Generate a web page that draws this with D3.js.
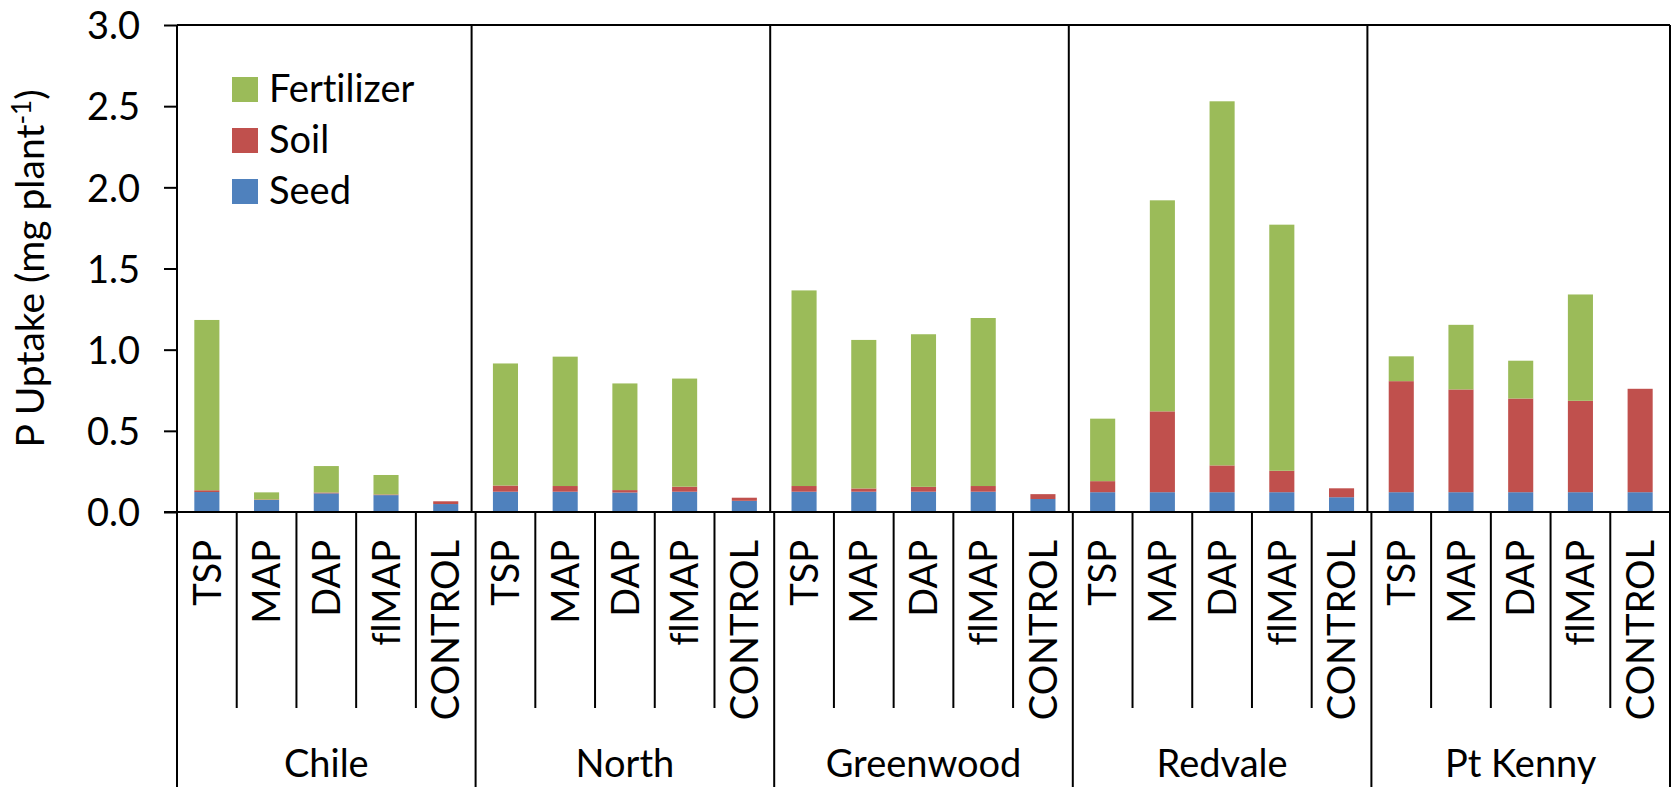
<!DOCTYPE html>
<html>
<head>
<meta charset="utf-8">
<script src="https://cdn.jsdelivr.net/npm/d3@7"></script>
<style>
  html, body { margin: 0; padding: 0; background: #fff; }
  svg { display: block; font-family: Lato, "Open Sans", sans-serif; font-variant-ligatures: none; }
</style>
</head>
<body>
<svg id="chart" width="1674" height="787"></svg>
<script>
// ---- data ----
const groups = ["Chile", "North", "Greenwood", "Redvale", "Pt Kenny"];
const treatments = ["TSP", "MAP", "DAP", "flMAP", "CONTROL"];
const seriesNames = ["Seed", "Soil", "Fertilizer"];
const seriesColors = ["#4F81BD", "#C0504D", "#9BBB59"];
const yTicks = [0, 0.5, 1.0, 1.5, 2.0, 2.5, 3.0];

// values per group, in treatment order
const seed = [
  0.123, 0.074, 0.115, 0.104, 0.049,
  0.125, 0.125, 0.120, 0.125, 0.069,
  0.125, 0.125, 0.125, 0.125, 0.080,
  0.122, 0.122, 0.122, 0.122, 0.091,
  0.122, 0.122, 0.122, 0.122, 0.122
];
const soil = [
  0.011, 0.003, 0.005, 0.004, 0.017,
  0.038, 0.035, 0.015, 0.031, 0.019,
  0.035, 0.020, 0.030, 0.035, 0.030,
  0.068, 0.498, 0.165, 0.132, 0.055,
  0.684, 0.633, 0.577, 0.563, 0.637
];
const fertilizer = [
  1.049, 0.044, 0.163, 0.120, 0.000,
  0.752, 0.797, 0.657, 0.666, 0.000,
  1.205, 0.915, 0.940, 1.035, 0.000,
  0.385, 1.300, 2.243, 1.516, 0.000,
  0.153, 0.398, 0.233, 0.655, 0.000
];

// ---- layout ----
const svg = d3.select("#chart");
const plot = { left: 177, right: 1670, top: 25, bottom: 512 };
const catLineBottom = 708;
const groupLineBottom = 787;
const fontSize = 38;

const rows = [];
groups.forEach((g, gi) => treatments.forEach((t, ti) => {
  const i = gi * treatments.length + ti;
  rows.push({ key: g + "|" + t, group: g, treatment: t, Seed: seed[i], Soil: soil[i], Fertilizer: fertilizer[i] });
}));

const x = d3.scaleBand().domain(rows.map(d => d.key))
  .range([plot.left, plot.right]).paddingInner(0.58).paddingOuter(0.29);
const xCat = d3.scaleBand().domain(rows.map(d => d.key)).range([plot.left, plot.right]);
const xGroup = d3.scaleBand().domain(groups).range([plot.left, plot.right]);
const y = d3.scaleLinear().domain([0, 3]).range([plot.bottom, plot.top]);

// ---- bars ----
const stack = d3.stack().keys(seriesNames)(rows);
svg.append("g").selectAll("g").data(stack).join("g")
  .attr("fill", (d, i) => seriesColors[i])
  .selectAll("rect").data(d => d).join("rect")
  .attr("x", d => x(d.data.key))
  .attr("width", x.bandwidth())
  .attr("y", d => y(d[1]))
  .attr("height", d => Math.max(0, y(d[0]) - y(d[1])));

// ---- frame: group dividers inside plot, top & right border ----
const frame = svg.append("g").attr("stroke", "#000").attr("stroke-width", 2);
groups.slice(1).forEach(g => {
  frame.append("line")
    .attr("x1", xGroup(g) - 4).attr("x2", xGroup(g) - 4)
    .attr("y1", plot.top).attr("y2", plot.bottom);
});
frame.append("line").attr("x1", plot.left).attr("x2", plot.right)
  .attr("y1", plot.top).attr("y2", plot.top);
frame.append("line").attr("x1", plot.right).attr("x2", plot.right)
  .attr("y1", plot.top).attr("y2", plot.bottom);

// ---- y axis ----
const yAxis = svg.append("g").attr("transform", `translate(${plot.left},0)`)
  .call(d3.axisLeft(y).tickValues(yTicks).tickFormat(d3.format(".1f")).tickSize(13).tickPadding(24));
yAxis.select(".domain").attr("stroke", "#000").attr("stroke-width", 2).attr("d", `M0,${plot.top}V${plot.bottom}`);
yAxis.selectAll(".tick line").attr("stroke", "#000").attr("stroke-width", 2);
yAxis.selectAll(".tick text").attr("font-size", fontSize).attr("fill", "#000")
  .attr("font-family", "Lato, sans-serif").attr("dy", "0.36em");

// ---- x axis ----
const xa = svg.append("g").attr("stroke", "#000").attr("stroke-width", 2);
xa.append("line").attr("x1", plot.left - 13).attr("x2", plot.right)
  .attr("y1", plot.bottom).attr("y2", plot.bottom);
// category boundaries
rows.forEach((d, i) => {
  if (i % treatments.length === 0) return;
  xa.append("line").attr("x1", xCat(d.key)).attr("x2", xCat(d.key))
    .attr("y1", plot.bottom).attr("y2", catLineBottom);
});
// group boundaries
groups.concat(["__end"]).forEach((g, i) => {
  const gx = i < groups.length ? xGroup(g) : plot.right;
  xa.append("line").attr("x1", gx).attr("x2", gx)
    .attr("y1", plot.bottom).attr("y2", groupLineBottom);
});

// category labels
svg.append("g").selectAll("text").data(rows).join("text")
  .attr("transform", d => `translate(${xCat(d.key) + xCat.bandwidth() / 2},540) rotate(-90)`)
  .attr("text-anchor", "end")
  .attr("dy", "0.36em")
  .attr("font-size", fontSize)
  .text(d => d.treatment);

// group labels
svg.append("g").selectAll("text").data(groups).join("text")
  .attr("x", d => xGroup(d) + xGroup.bandwidth() / 2)
  .attr("y", 777)
  .attr("text-anchor", "middle")
  .attr("font-size", fontSize)
  .text(d => d);

// ---- y title ----
const yt = svg.append("text")
  .attr("transform", `translate(44,${(plot.top + plot.bottom) / 2}) rotate(-90)`)
  .attr("text-anchor", "middle")
  .attr("font-size", 39);
yt.append("tspan").text("P Uptake (mg plant");
yt.append("tspan").attr("font-size", 26).attr("dy", "-13").text("-1");
yt.append("tspan").attr("dy", "13").text(")");

// ---- legend ----
const legendOrder = [2, 1, 0];
const lg = svg.append("g").attr("transform", "translate(232,77)");
legendOrder.forEach((si, r) => {
  const row = lg.append("g").attr("transform", `translate(0,${r * 51})`);
  row.append("rect").attr("width", 26).attr("height", 25).attr("fill", seriesColors[si]);
  row.append("text").attr("x", 37).attr("y", 25).attr("font-size", fontSize).text(seriesNames[si]);
});
</script>
</body>
</html>
